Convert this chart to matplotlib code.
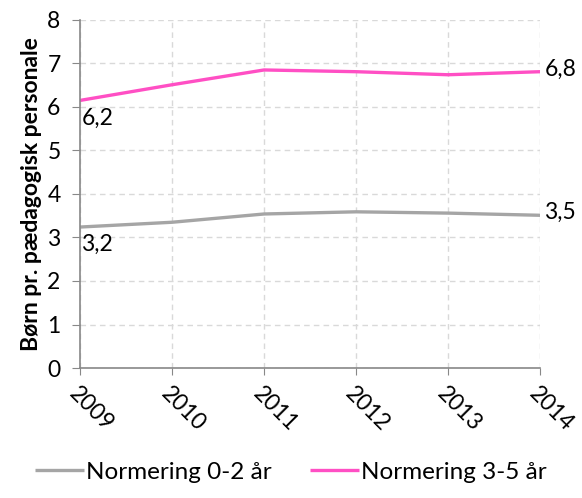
import matplotlib.pyplot as plt

years = ['2009', '2010', '2011', '2012', '2013', '2014']
norm_0_2 = [3.24, 3.35, 3.54, 3.59, 3.56, 3.51]
norm_3_5 = [6.15, 6.51, 6.85, 6.81, 6.74, 6.81]

plt.rcParams['font.family'] = ['Lato', 'DejaVu Sans']

gray = '#A5A5A5'
pink = '#FF4FC4'
fs = 16.5

fig = plt.figure(figsize=(5.82, 4.98), dpi=100)
ax = fig.add_axes([0.1375, 0.261, 0.7905, 0.699])

x = range(len(years))
ax.plot(x, norm_0_2, color=gray, lw=2.4, label='Normering 0-2 år', solid_capstyle='butt')
ax.plot(x, norm_3_5, color=pink, lw=2.4, label='Normering 3-5 år', solid_capstyle='butt')

def fmt(v):
    return f'{v:.1f}'.replace('.', ',')

for series in (norm_0_2, norm_3_5):
    ax.annotate(fmt(series[0]), (0, series[0]), xytext=(1, -5), textcoords='offset points',
                ha='left', va='top', fontsize=fs)
    ax.annotate(fmt(series[-1]), (len(years) - 1, series[-1]), xytext=(3, 2), textcoords='offset points',
                ha='left', va='center', fontsize=fs)

ax.set_xlim(0, len(years) - 1)
ax.set_ylim(0, 8)
ax.set_xticks(list(x))
ax.set_xticklabels(years, rotation=-45, ha='left', va='top', rotation_mode='anchor', fontsize=fs)
ax.set_yticks(range(9))
ax.tick_params(axis='y', labelsize=fs, color='#888888', length=6, pad=8)
ax.tick_params(axis='x', color='#888888', length=5, pad=6)
ax.grid(True, color='#D9D9D9', linestyle=(0, (4, 3)), lw=1)
ax.set_axisbelow(True)
for s in ('top', 'right'):
    ax.spines[s].set_visible(False)
for s in ('left', 'bottom'):
    ax.spines[s].set_color('#888888')
    ax.spines[s].set_linewidth(1.2)

ax.set_ylabel('Børn pr. pædagogisk personale', fontsize=16.5, fontweight='bold', labelpad=4)

fig.legend(loc='center', bbox_to_anchor=(0.5, 0.052), ncol=2, frameon=False, fontsize=17.5,
           handlelength=2.0, columnspacing=1.6, handletextpad=0.1)

fig.savefig('out.png', dpi=100)
